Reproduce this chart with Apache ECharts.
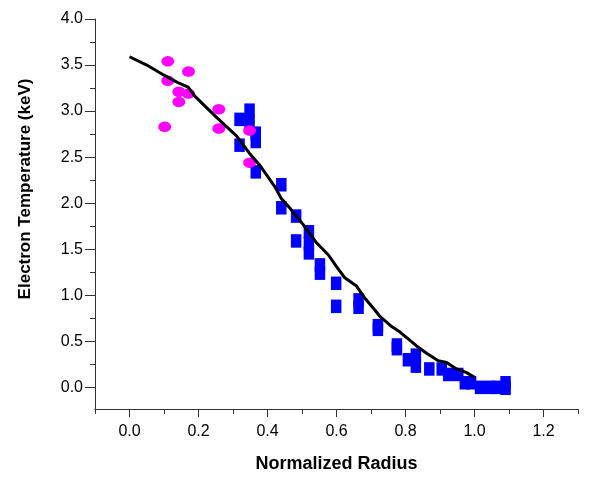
<!DOCTYPE html>
<html>
<head>
<meta charset="utf-8">
<script src="https://cdn.jsdelivr.net/npm/echarts@6/dist/echarts.min.js"></script>
<style>
html,body{margin:0;padding:0;background:#fff;}
#chart{width:589px;height:478px;}
</style>
</head>
<body>
<div id="chart"></div>
<script>
// Measured electron temperature (magenta ellipses)
var magentaX = [0.111, 0.171, 0.111, 0.143, 0.171, 0.143, 0.102, 0.259, 0.259, 0.348, 0.348];
var magentaY = [3.54, 3.43, 3.33, 3.21, 3.19, 3.10, 2.83, 3.02, 2.81, 2.79, 2.44];

// Measured electron temperature (blue squares)
var blueX = [0.319, 0.319, 0.348, 0.348, 0.366, 0.366, 0.366, 0.44, 0.44, 0.483, 0.483, 0.52, 0.52, 0.52,
             0.552, 0.552, 0.599, 0.599, 0.664, 0.664, 0.72, 0.72, 0.775, 0.775, 0.807, 0.83, 0.83,
             0.869, 0.905, 0.924, 0.953, 0.972, 0.99, 1.016, 1.045, 1.064, 1.09, 1.09];
var blueY = [2.91, 2.63, 3.01, 2.89, 2.76, 2.67, 2.34, 2.20, 1.95, 1.86, 1.59, 1.69, 1.56, 1.46,
             1.33, 1.24, 1.13, 0.88, 0.95, 0.87, 0.67, 0.63, 0.46, 0.42, 0.30, 0.35, 0.23,
             0.20, 0.20, 0.14, 0.14, 0.05, 0.05, 0.00, 0.00, 0.00, 0.05, -0.01];

// Model profile (black line)
var lineX = [0.0, 0.05, 0.10, 0.145, 0.17, 0.19, 0.25, 0.31, 0.348, 0.38, 0.421, 0.44, 0.464, 0.503,
             0.542, 0.576, 0.60, 0.624, 0.658, 0.682, 0.711, 0.726, 0.76, 0.784, 0.813, 0.832, 0.861,
             0.895, 0.919, 0.948, 0.977, 1.0];
var lineY = [3.59, 3.50, 3.39, 3.30, 3.26, 3.16, 2.94, 2.73, 2.54, 2.40, 2.18, 2.05, 1.95, 1.77,
             1.57, 1.44, 1.31, 1.19, 1.10, 0.97, 0.84, 0.77, 0.66, 0.60, 0.51, 0.45, 0.37,
             0.29, 0.27, 0.20, 0.16, 0.11];

// Tick values
var xMajorTicks = [0.0, 0.2, 0.4, 0.6, 0.8, 1.0, 1.2];
var xMinorTicks = [-0.1, 0.1, 0.3, 0.5, 0.7, 0.9, 1.1, 1.3];
var yMajorTicks = [0.0, 0.5, 1.0, 1.5, 2.0, 2.5, 3.0, 3.5, 4.0];
var yMinorTicks = [0.25, 0.75, 1.25, 1.75, 2.25, 2.75, 3.25, 3.75];

var xTitle = 'Normalized Radius';
var yTitle = 'Electron Temperature (keV)';

function zip(a, b) { return a.map(function (v, i) { return [v, b[i]]; }); }

var XMIN = -0.1, XMAX = 1.3, YMIN = -0.235, YMAX = 4.0;
var axisColor = '#333';
var font = '"Liberation Sans", Arial, sans-serif';

var chart = echarts.init(document.getElementById('chart'), null, {renderer: 'canvas'});
chart.setOption({
  animation: false,
  backgroundColor: '#ffffff',
  grid: {left: 95, right: 11, top: 19, bottom: 69, containLabel: false},
  xAxis: [{
    type: 'value', min: XMIN, max: XMAX, position: 'bottom',
    name: xTitle, nameLocation: 'middle', nameGap: 46,
    nameTextStyle: {fontFamily: font, fontSize: 18, fontWeight: 'bold', color: '#000'},
    axisLine: {show: true, onZero: false, lineStyle: {color: axisColor, width: 1}},
    axisTick: {show: true, inside: false, length: 8, customValues: xMajorTicks, lineStyle: {color: axisColor}},
    axisLabel: {show: true, margin: 15, customValues: xMajorTicks, fontFamily: font, fontSize: 16, color: '#000',
      formatter: function (v) { return v.toFixed(1); }},
    splitLine: {show: false}
  }, {
    type: 'value', min: XMIN, max: XMAX, position: 'bottom', offset: 0,
    axisLine: {show: false, onZero: false},
    axisTick: {show: true, inside: false, length: 5, customValues: xMinorTicks, lineStyle: {color: axisColor}},
    axisLabel: {show: false},
    splitLine: {show: false}
  }],
  yAxis: [{
    type: 'value', min: YMIN, max: YMAX, position: 'left',
    axisLine: {show: true, onZero: false, lineStyle: {color: axisColor, width: 1}},
    axisTick: {show: true, inside: false, length: 10, customValues: yMajorTicks, lineStyle: {color: axisColor}},
    axisLabel: {show: true, margin: 12, customValues: yMajorTicks, fontFamily: font, fontSize: 16, color: '#000',
      formatter: function (v) { return v.toFixed(1); }},
    splitLine: {show: false}
  }, {
    type: 'value', min: YMIN, max: YMAX, position: 'left', offset: 0,
    axisLine: {show: false, onZero: false},
    axisTick: {show: true, inside: false, length: 5, customValues: yMinorTicks, lineStyle: {color: axisColor}},
    axisLabel: {show: false},
    splitLine: {show: false}
  }],
  graphic: [{
    type: 'text', x: 25, y: 189, rotation: Math.PI / 2,
    style: {text: yTitle, font: 'bold 17px ' + font, fill: '#000', align: 'center', verticalAlign: 'middle'}
  }],
  series: [{
    type: 'scatter', name: 'blue', xAxisIndex: 0, yAxisIndex: 0,
    data: zip(blueX, blueY), symbol: 'rect', symbolSize: [10.5, 13.5],
    itemStyle: {color: '#0000ff', opacity: 1}
  }, {
    type: 'scatter', name: 'magenta', xAxisIndex: 0, yAxisIndex: 0,
    data: zip(magentaX, magentaY), symbol: 'circle', symbolSize: [13, 10.5],
    itemStyle: {color: '#ff00ff', opacity: 1}
  }, {
    type: 'line', name: 'profile', xAxisIndex: 0, yAxisIndex: 0,
    data: zip(lineX, lineY), showSymbol: false, symbol: 'none', smooth: false,
    lineStyle: {color: '#000', width: 3}
  }]
});
</script>
</body>
</html>
